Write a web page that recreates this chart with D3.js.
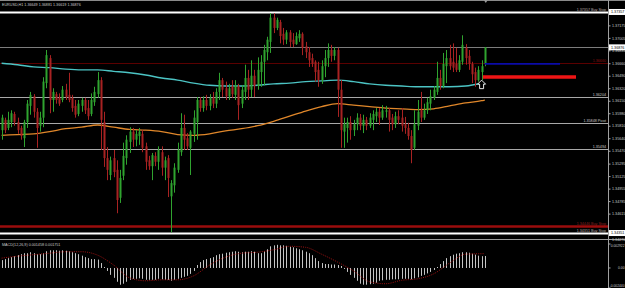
<!DOCTYPE html>
<html>
<head>
<meta charset="utf-8">
<script src="https://cdn.jsdelivr.net/npm/d3@7"></script>
<style>
html, body { margin: 0; padding: 0; background: #000; overflow: hidden; }
</style>
</head>
<body>
<div id="chart"></div>
<script>
// ---- data ----
const chartTitle = "EURUSD,H1 1.36649 1.36881 1.36619 1.36876";
const macdTitle = "MACD(12,26,9) 0.001458 0.001751";

// hourly candles: [open, high, low, close]
const candles = [
  [1.3575,1.3596,1.3562,1.3592],[1.3589,1.3592,1.3571,1.3575],[1.3578,1.3600,1.3575,1.3589],[1.3586,1.3602,1.3579,1.3598],
  [1.3597,1.3600,1.3581,1.3586],[1.3586,1.3592,1.3570,1.3575],[1.3578,1.3581,1.3562,1.3567],[1.3564,1.3589,1.3552,1.3586],
  [1.3586,1.3616,1.3578,1.3611],[1.3608,1.3627,1.3596,1.3623],[1.3621,1.3624,1.3592,1.3600],[1.3600,1.3605,1.3551,1.3578],
  [1.3581,1.3600,1.3573,1.3592],[1.3592,1.3647,1.3579,1.3641],[1.3639,1.3684,1.3632,1.3677],[1.3673,1.3677,1.3598,1.3616],
  [1.3616,1.3632,1.3600,1.3627],[1.3624,1.3627,1.3611,1.3616],[1.3619,1.3625,1.3608,1.3611],[1.3616,1.3635,1.3613,1.3630],
  [1.3630,1.3638,1.3616,1.3620],[1.3623,1.3653,1.3613,1.3616],[1.3619,1.3623,1.3600,1.3605],[1.3608,1.3616,1.3592,1.3596],
  [1.3597,1.3616,1.3594,1.3611],[1.3608,1.3619,1.3600,1.3616],[1.3616,1.3619,1.3597,1.3602],[1.3605,1.3616,1.3589,1.3594],
  [1.3597,1.3625,1.3594,1.3616],[1.3613,1.3634,1.3608,1.3627],[1.3624,1.3654,1.3619,1.3643],[1.3643,1.3647,1.3548,1.3589],
  [1.3586,1.3600,1.3525,1.3537],[1.3537,1.3552,1.3507,1.3521],[1.3514,1.3539,1.3507,1.3534],[1.3537,1.3548,1.3511,1.3518],
  [1.3521,1.3534,1.3462,1.3480],[1.3483,1.3521,1.3476,1.3510],[1.3513,1.3558,1.3507,1.3540],[1.3537,1.3568,1.3528,1.3562],
  [1.3559,1.3579,1.3544,1.3573],[1.3573,1.3578,1.3552,1.3562],[1.3562,1.3575,1.3553,1.3570],[1.3567,1.3578,1.3555,1.3573],
  [1.3570,1.3575,1.3545,1.3551],[1.3553,1.3558,1.3521,1.3532],[1.3534,1.3540,1.3521,1.3526],[1.3526,1.3544,1.3507,1.3541],
  [1.3540,1.3545,1.3526,1.3532],[1.3532,1.3553,1.3521,1.3548],[1.3545,1.3553,1.3513,1.3524],[1.3524,1.3539,1.3507,1.3534],
  [1.3537,1.3541,1.3484,1.3510],[1.3485,1.3507,1.3436,1.3503],[1.3500,1.3530,1.3490,1.3524],[1.3521,1.3558,1.3517,1.3548],
  [1.3545,1.3598,1.3540,1.3578],[1.3578,1.3596,1.3548,1.3562],[1.3564,1.3571,1.3548,1.3553],[1.3551,1.3575,1.3514,1.3573],
  [1.3570,1.3602,1.3559,1.3592],[1.3586,1.3620,1.3562,1.3616],[1.3616,1.3620,1.3600,1.3605],[1.3605,1.3621,1.3600,1.3616],
  [1.3616,1.3623,1.3602,1.3608],[1.3608,1.3624,1.3602,1.3619],[1.3619,1.3627,1.3605,1.3611],[1.3611,1.3632,1.3605,1.3627],
  [1.3627,1.3653,1.3616,1.3643],[1.3643,1.3646,1.3620,1.3630],[1.3632,1.3641,1.3616,1.3621],[1.3621,1.3638,1.3616,1.3632],
  [1.3635,1.3643,1.3619,1.3624],[1.3623,1.3643,1.3616,1.3636],[1.3635,1.3638,1.3589,1.3609],[1.3611,1.3636,1.3605,1.3630],
  [1.3627,1.3664,1.3616,1.3646],[1.3646,1.3657,1.3616,1.3630],[1.3630,1.3670,1.3620,1.3649],[1.3649,1.3657,1.3620,1.3635],
  [1.3635,1.3674,1.3630,1.3657],[1.3654,1.3677,1.3634,1.3668],[1.3668,1.3691,1.3636,1.3684],[1.3681,1.3702,1.3670,1.3698],
  [1.3695,1.3734,1.3680,1.3728],[1.3728,1.3734,1.3707,1.3714],[1.3714,1.3728,1.3711,1.3725],[1.3722,1.3725,1.3693,1.3703],
  [1.3706,1.3714,1.3691,1.3698],[1.3698,1.3711,1.3692,1.3708],[1.3708,1.3711,1.3688,1.3695],[1.3698,1.3707,1.3688,1.3692],
  [1.3692,1.3708,1.3691,1.3703],[1.3700,1.3711,1.3695,1.3706],[1.3706,1.3708,1.3677,1.3687],[1.3689,1.3695,1.3673,1.3681],
  [1.3681,1.3688,1.3661,1.3670],[1.3673,1.3679,1.3661,1.3665],[1.3668,1.3670,1.3641,1.3654],[1.3657,1.3668,1.3634,1.3643],
  [1.3643,1.3670,1.3638,1.3662],[1.3662,1.3684,1.3647,1.3673],[1.3673,1.3693,1.3661,1.3684],[1.3684,1.3691,1.3668,1.3676],
  [1.3676,1.3688,1.3670,1.3684],[1.3684,1.3687,1.3593,1.3630],[1.3630,1.3643,1.3551,1.3575],[1.3573,1.3592,1.3551,1.3583],
  [1.3578,1.3592,1.3558,1.3586],[1.3586,1.3594,1.3562,1.3575],[1.3575,1.3589,1.3567,1.3583],[1.3583,1.3598,1.3575,1.3592],
  [1.3592,1.3597,1.3575,1.3581],[1.3581,1.3596,1.3571,1.3589],[1.3589,1.3593,1.3575,1.3581],[1.3581,1.3598,1.3578,1.3592],
  [1.3589,1.3602,1.3575,1.3597],[1.3594,1.3605,1.3586,1.3600],[1.3600,1.3605,1.3582,1.3592],[1.3592,1.3609,1.3589,1.3602],
  [1.3600,1.3608,1.3592,1.3602],[1.3602,1.3605,1.3573,1.3589],[1.3592,1.3597,1.3575,1.3583],[1.3583,1.3600,1.3578,1.3594],
  [1.3594,1.3602,1.3583,1.3589],[1.3592,1.3605,1.3573,1.3581],[1.3583,1.3593,1.3570,1.3578],[1.3578,1.3585,1.3562,1.3567],
  [1.3567,1.3575,1.3530,1.3548],[1.3551,1.3602,1.3548,1.3583],[1.3581,1.3616,1.3575,1.3600],[1.3602,1.3627,1.3586,1.3592],
  [1.3592,1.3611,1.3589,1.3602],[1.3602,1.3619,1.3597,1.3613],[1.3611,1.3630,1.3602,1.3621],[1.3619,1.3635,1.3616,1.3630],
  [1.3627,1.3668,1.3623,1.3646],[1.3646,1.3657,1.3630,1.3635],[1.3635,1.3680,1.3632,1.3665],[1.3662,1.3684,1.3639,1.3673],
  [1.3673,1.3691,1.3657,1.3662],[1.3668,1.3693,1.3654,1.3660],[1.3665,1.3687,1.3654,1.3657],[1.3657,1.3677,1.3654,1.3670],
  [1.3668,1.3704,1.3664,1.3691],[1.3687,1.3692,1.3664,1.3673],[1.3676,1.3684,1.3657,1.3665],[1.3665,1.3668,1.3639,1.3651],
  [1.3654,1.3660,1.3634,1.3643],[1.3643,1.3662,1.3641,1.3657],[1.3654,1.3670,1.3643,1.3662],[1.36649,1.36881,1.36619,1.36876]
];

// moving averages, read every 5 bars
const maIndex = [0,5,10,15,20,25,30,35,40,45,50,55,60,65,70,75,80,85,90,95,100,105,110,115,120,125,130,135,140,145,150,151];
const maCyan = [1.3666,1.3664,1.3661,1.3660,1.3658,1.3657,1.3657,1.3655,1.3653,1.3650,1.3646,1.3643,1.3639,1.3636,1.3635,1.3635,
                1.3636,1.3638,1.3639,1.3641,1.3642,1.3643,1.3641,1.3638,1.3636,1.3635,1.3634,1.3634,1.3634,1.3635,1.3638,1.3638];
const maOrange = [1.3568,1.3569,1.3570,1.3573,1.3577,1.3579,1.3582,1.3579,1.3576,1.3575,1.3573,1.3569,1.3568,1.3570,1.3574,1.3577,
                  1.3581,1.3587,1.3594,1.3601,1.3607,1.3611,1.3609,1.3607,1.3605,1.3604,1.3603,1.3604,1.3608,1.3612,1.3615,1.3616];

// MACD histogram, one per bar
const macdHist = [
  0.00096,0.00108,0.0012,0.00132,0.00144,0.00156,0.00168,0.0018,0.0018,0.00192,
  0.0018,0.00168,0.00168,0.0018,0.00204,0.00216,0.00216,0.00216,0.0021,0.00216,
  0.0021,0.00204,0.00192,0.0018,0.00168,0.0015,0.00132,0.0012,0.00108,0.00108,
  0.00102,0.0006,0.00012,-0.00036,-0.00084,-0.0012,-0.00168,-0.00204,-0.00192,-0.00168,
  -0.00144,-0.00132,-0.00132,-0.00126,-0.00132,-0.00144,-0.00144,-0.00144,-0.00144,-0.00132,
  -0.00138,-0.00144,-0.00144,-0.00156,-0.00144,-0.00132,-0.0012,-0.00108,-0.00096,-0.00072,
  -0.00036,0.00036,0.00072,0.00096,0.00108,0.0012,0.00132,0.00156,0.00168,0.00174,
  0.00186,0.00192,0.00198,0.00204,0.00198,0.00192,0.00198,0.00198,0.00204,0.00198,
  0.0018,0.0018,0.00204,0.00228,0.00264,0.00276,0.00282,0.00276,0.00276,0.0027,
  0.00258,0.00252,0.0024,0.00228,0.00216,0.00198,0.0018,0.00156,0.0012,0.00084,
  0.0006,0.00048,0.00048,0.00042,0.00042,0.00036,0.00024,-0.00012,-0.00048,-0.00084,
  -0.0012,-0.00156,-0.00192,-0.00204,-0.00204,-0.00198,-0.00192,-0.0018,-0.00156,-0.0015,
  -0.00144,-0.00144,-0.00138,-0.00138,-0.00138,-0.00132,-0.00132,-0.00132,-0.00138,-0.00126,
  -0.00114,-0.00096,-0.00084,-0.00066,-0.00048,-0.00024,0.00012,0.00048,0.00084,0.0012,
  0.00144,0.00162,0.00174,0.0018,0.00192,0.00192,0.00186,0.00174,0.00162,0.0015,
  0.00144,0.001458
];
// signal line, read every 5 bars (same bars as maIndex)
const macdSignal = [0.0012,0.00144,0.00162,0.0018,0.00198,0.00198,0.00156,0.00036,-0.0012,-0.00156,-0.00144,-0.00144,-0.00096,0.00036,0.00132,0.0018,
                    0.00192,0.00222,0.00264,0.00252,0.00168,0.00072,-0.00036,-0.00168,-0.00192,-0.0015,-0.00132,-0.00072,0.0006,0.00168,0.00174,0.001751];

// price axis
const priceTicks = [1.37175,1.37005,1.36835,1.36660,1.36490,1.36320,1.36150,1.35980,1.35810,1.35640,1.35470,1.35295,1.35125,1.34955,1.34785,1.34615,1.34270];
const markedPrices = [1.37357, 1.36876, 1.34351];
const macdTicks = [0.002922, 0, -0.00244];
const macdTickLabels = ["0.002922", "0.00", "-0.002440"];

// horizontal levels
const levelPrices = [1.37357, 1.36876, 1.36660, 1.36204, 1.35848, 1.35494, 1.34446, 1.34351];
const levelLabels = ["1.37357 Buy Stop", "", "1.36660", "1.36204", "1.35848 Pivot", "1.35494", "1.34446 Buy Stop", "1.34351 Buy Stop"];
const levelKinds = ["order", "bid", "dark", "grey", "grey", "grey", "stop", "order"];

// short drawn objects at the right (bar index from, bar index to, price)
const bluePrice = 1.36650, blueFrom = 151, blueTo = 174.5;
const redPrice = 1.36472, redFrom = 150.4, redTo = 179.5;
const arrowBar = 150, arrowPrice = 1.3643;

// ---- layout ----
const W = 625, H = 288;
const axisX = 608;
const mainBottom = 238;
const subTop = 240;
const fontSize = 3.7;

const svg = d3.select("#chart").append("svg")
    .attr("width", W)
    .attr("height", H)
    .style("background", "#000")
    .style("font-family", "'Liberation Sans', Arial, sans-serif");

svg.append("rect").attr("width", W).attr("height", H).attr("fill", "#000");

const xi = d3.scaleLinear().domain([0, candles.length]).range([0, 486.4]);
const cx = i => xi(i + 0.5);

const y = d3.scaleLinear().domain([1.342832, 1.3752]).range([mainBottom, 0]);
const ym = d3.scaleLinear().domain([-0.00244, 0.002922]).range([H, 244]);

const defs = svg.append("defs");
defs.append("clipPath").attr("id", "clipMain")
    .append("rect").attr("x", 0).attr("y", 0).attr("width", axisX).attr("height", mainBottom);
defs.append("clipPath").attr("id", "clipSub")
    .append("rect").attr("x", 0).attr("y", subTop).attr("width", axisX).attr("height", H - subTop);

const main = svg.append("g").attr("clip-path", "url(#clipMain)");

// frame lines
svg.append("line").attr("x1", 0).attr("x2", W).attr("y1", 0.5).attr("y2", 0.5)
    .attr("stroke", "#8a8a8a").attr("stroke-width", 1);
svg.append("line").attr("x1", 0).attr("x2", W).attr("y1", subTop - 0.5).attr("y2", subTop - 0.5)
    .attr("stroke", "#9a9a9a").attr("stroke-width", 1);

// levels
const levelColor = {order: "#ffffff", bid: "#7c7c7c", dark: "#5a0000", grey: "#a8a8a8", stop: "#9a0d0d"};
const levelWidth = {order: 2, bid: 1, dark: 1, grey: 1, stop: 2.5};
const labelColor = {order: "#b8a8a8", bid: "#aaa", dark: "#8a1010", grey: "#c8c8c8", stop: "#902020"};

levelPrices.forEach((p, k) => {
    const kind = levelKinds[k];
    main.append("line")
        .attr("x1", 0).attr("x2", axisX)
        .attr("y1", Math.round(y(p)) + 0.5).attr("y2", Math.round(y(p)) + 0.5)
        .attr("stroke", levelColor[kind])
        .attr("stroke-width", levelWidth[kind]);
    if (levelLabels[k]) {
        main.append("text")
            .attr("x", axisX - 2)
            .attr("y", Math.round(y(p)) - 1.2)
            .attr("text-anchor", "end")
            .attr("font-size", fontSize)
            .attr("fill", labelColor[kind])
            .text(levelLabels[k]);
    }
});

// moving averages
const maLine = (vals) => d3.line()
    .x((d, k) => cx(maIndex[k]))
    .y(d => y(d))
    .curve(d3.curveMonotoneX)(vals);

main.append("path").attr("d", maLine(maOrange))
    .attr("fill", "none").attr("stroke", "#e0872a").attr("stroke-width", 1.3);
main.append("path").attr("d", maLine(maCyan))
    .attr("fill", "none").attr("stroke", "#4cc4c4").attr("stroke-width", 1.4);

// candles
const up = "#2fa32f", down = "#a82222";
const bars = main.append("g");
candles.forEach((c, i) => {
    const [o, h, l, cl] = c;
    const col = cl >= o ? up : down;
    const xc = Math.round(cx(i));
    bars.append("line")
        .attr("x1", xc + 0.5).attr("x2", xc + 0.5)
        .attr("y1", y(h)).attr("y2", y(l))
        .attr("stroke", col).attr("stroke-width", 1);
    const top = y(Math.max(o, cl)), bot = y(Math.min(o, cl));
    bars.append("rect")
        .attr("x", xc - 0.5).attr("width", 2)
        .attr("y", top).attr("height", Math.max(1, bot - top))
        .attr("fill", col);
});

// right-hand objects
main.append("line")
    .attr("x1", cx(blueFrom)).attr("x2", cx(blueTo))
    .attr("y1", y(bluePrice)).attr("y2", y(bluePrice))
    .attr("stroke", "#0b0ba8").attr("stroke-width", 1.8);
main.append("line")
    .attr("x1", cx(redFrom)).attr("x2", cx(redTo))
    .attr("y1", y(redPrice)).attr("y2", y(redPrice))
    .attr("stroke", "#ee1515").attr("stroke-width", 3.4);

// up arrow
const ax = cx(arrowBar), ay = y(arrowPrice);
main.append("path")
    .attr("d", `M${ax},${ay} l4,4 h-2 v4.5 h-4 v-4.5 h-2 z`)
    .attr("fill", "#000").attr("stroke", "#fff").attr("stroke-width", 0.9);

// chart shift marker
svg.append("path")
    .attr("d", `M${cx(candles.length - 1) + 1},3 l-2,-3 h4 z`)
    .attr("fill", "#999");

// title
svg.append("text")
    .attr("x", 2).attr("y", 5.5)
    .attr("font-size", fontSize).attr("fill", "#c8c8c8")
    .text(chartTitle);

// price axis
const yAxis = svg.append("g")
    .attr("transform", `translate(${axisX + 0.5},0)`)
    .call(d3.axisRight(y).tickValues(priceTicks).tickSize(2).tickPadding(1.5).tickFormat(d3.format(".5f")));
yAxis.select(".domain").remove();
yAxis.selectAll("line").attr("stroke", "#aaa");
yAxis.selectAll("text").attr("font-size", fontSize).attr("fill", "#c8c8c8").attr("font-family", "'Liberation Sans', Arial, sans-serif");

svg.append("line").attr("x1", axisX + 0.5).attr("x2", axisX + 0.5).attr("y1", 0).attr("y2", H)
    .attr("stroke", "#a0a0a0").attr("stroke-width", 1);

// highlighted prices on the axis
markedPrices.forEach(p => {
    const yy = y(p);
    svg.append("rect").attr("x", axisX + 1).attr("y", yy - 3).attr("width", W - axisX - 1).attr("height", 6)
        .attr("fill", "#fff");
    svg.append("text").attr("x", axisX + 3).attr("y", yy + 1.4)
        .attr("font-size", fontSize).attr("fill", "#000").text(d3.format(".5f")(p));
});

// ---- MACD window ----
const sub = svg.append("g").attr("clip-path", "url(#clipSub)");
sub.selectAll("line.hist")
    .data(macdHist)
    .enter()
    .append("line")
    .attr("class", "hist")
    .attr("x1", (d, i) => Math.round(cx(i)) + 0.5)
    .attr("x2", (d, i) => Math.round(cx(i)) + 0.5)
    .attr("y1", ym(0))
    .attr("y2", d => ym(d))
    .attr("stroke", "#c4c4c4")
    .attr("stroke-width", 1);

sub.append("path")
    .attr("d", d3.line().x((d, k) => cx(maIndex[k])).y(d => ym(d)).curve(d3.curveMonotoneX)(macdSignal))
    .attr("fill", "none").attr("stroke", "#b01414").attr("stroke-width", 0.9)
    .attr("stroke-dasharray", "1,1.2");

svg.append("text")
    .attr("x", 2).attr("y", subTop + 5.5)
    .attr("font-size", fontSize).attr("fill", "#c8c8c8")
    .text(macdTitle);

const macdLabelY = [ym(macdTicks[0]) + 2.6, ym(macdTicks[1]) + 1.3, H - 1];
macdTicks.forEach((v, k) => {
    svg.append("line").attr("x1", axisX + 0.5).attr("x2", axisX + 2.5)
        .attr("y1", ym(v)).attr("y2", ym(v)).attr("stroke", "#aaa");
    svg.append("text").attr("x", W - 0.5).attr("y", macdLabelY[k])
        .attr("text-anchor", "end")
        .attr("font-size", 3.3).attr("fill", "#c8c8c8")
        .text(macdTickLabels[k]);
});
</script>
</body>
</html>
